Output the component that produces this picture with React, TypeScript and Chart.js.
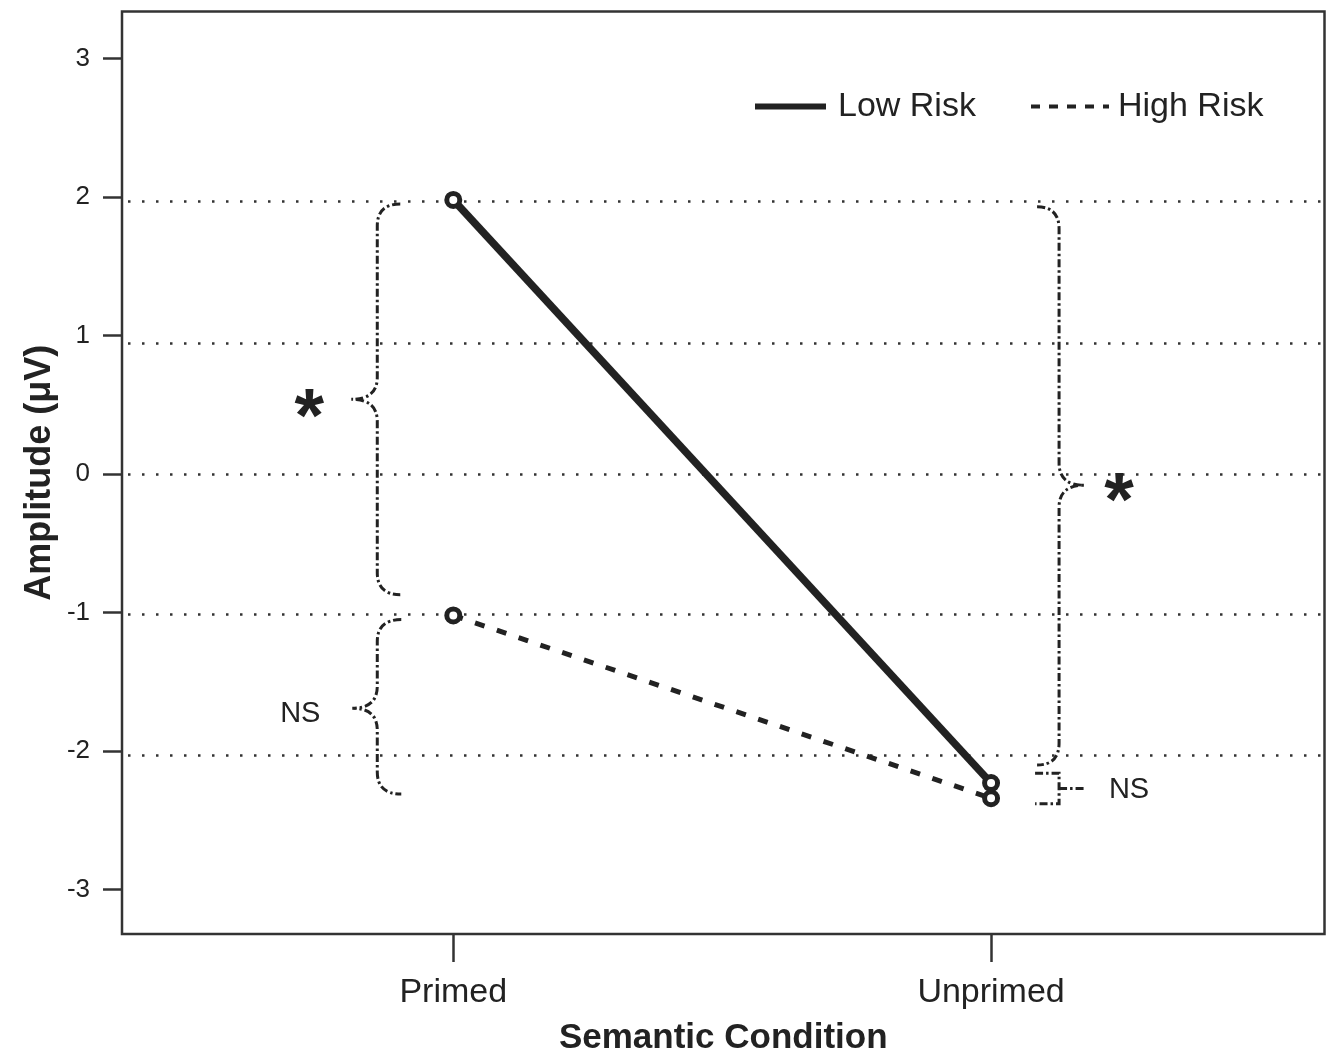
import React, { useEffect, useRef } from "react";
import { Chart, registerables } from "chart.js";

Chart.register(...registerables);

// ---- data ----
const categories = ["Primed", "Unprimed"];
const seriesLabels = ["Low Risk", "High Risk"];
const lowRisk = [1.98, -2.23];
const highRisk = [-1.02, -2.34];
const yTickValues = [-3, -2, -1, 0, 1, 2, 3];
const refLineValues = [1.97, 0.95, 0, -1.01, -2.03];
// braces: [top, tip, bottom] in µV
const braceLeftTop = [1.95, 0.54, -0.87];
const braceLeftBottom = [-1.05, -1.69, -2.31];
const braceRightBig = [1.93, -0.08, -2.1];
const bracketRightSmall = [-2.16, -2.27, -2.38];
const sigLabels = ["*", "NS", "*", "NS"];
const sigLabelValues = [0.53, -1.69, -0.08, -2.27];

const INK = "#222222";
const FONT = "'Liberation Sans', Arial, Helvetica, sans-serif";

const overlay = {
  id: "overlay",
  beforeDatasetsDraw(chart: any) {
    const { ctx, chartArea: a, scales } = chart;
    const y = scales.y;
    ctx.save();
    ctx.strokeStyle = "#333";
    ctx.lineWidth = 2.5;
    ctx.setLineDash([2.5, 11.5]);
    refLineValues.forEach((v) => {
      const py = Math.round(y.getPixelForValue(v)) + 0.5;
      ctx.beginPath();
      ctx.moveTo(a.left + 6, py);
      ctx.lineTo(a.right, py);
      ctx.stroke();
    });
    ctx.restore();
  },
  afterDraw(chart: any) {
    const { ctx, chartArea: a, scales } = chart;
    const x = scales.x;
    const y = scales.y;
    const px = (v: number) => x.getPixelForValue(v);
    const py = (v: number) => y.getPixelForValue(v);
    ctx.save();
    // frame
    ctx.strokeStyle = "#333";
    ctx.lineWidth = 2.5;
    ctx.setLineDash([]);
    ctx.strokeRect(a.left, a.top, a.right - a.left, a.bottom - a.top);

    // braces
    const brace = (vals: number[], xe: number, xv: number, xt: number) => {
      const yt = py(vals[0]);
      const yc = py(vals[1]);
      const yb = py(vals[2]);
      const r = 22;
      ctx.beginPath();
      ctx.moveTo(xe, yt);
      ctx.quadraticCurveTo(xv, yt, xv, yt + r);
      ctx.lineTo(xv, yc - r);
      ctx.quadraticCurveTo(xv, yc, xt, yc);
      ctx.quadraticCurveTo(xv, yc, xv, yc + r);
      ctx.lineTo(xv, yb - r);
      ctx.quadraticCurveTo(xv, yb, xe, yb);
      ctx.stroke();
    };
    ctx.strokeStyle = INK;
    ctx.lineWidth = 3;
    ctx.setLineDash([8, 3, 2.5, 3]);
    const p0 = px(0);
    const p1 = px(1);
    brace(braceLeftTop, p0 - 53, p0 - 76, p0 - 102);
    brace(braceLeftBottom, p0 - 52, p0 - 76, p0 - 101);
    brace(braceRightBig, p1 + 46, p1 + 68, p1 + 93);
    // small square bracket
    {
      const yt = py(bracketRightSmall[0]);
      const yc = py(bracketRightSmall[1]);
      const yb = py(bracketRightSmall[2]);
      ctx.beginPath();
      ctx.moveTo(p1 + 44, yt);
      ctx.lineTo(p1 + 68, yt);
      ctx.lineTo(p1 + 68, yb);
      ctx.lineTo(p1 + 44, yb);
      ctx.moveTo(p1 + 68, yc);
      ctx.lineTo(p1 + 93, yc);
      ctx.stroke();
    }
    ctx.setLineDash([]);

    // significance labels
    ctx.fillStyle = INK;
    ctx.textBaseline = "middle";
    ctx.textAlign = "center";
    ctx.font = `bold 76px ${FONT}`;
    ctx.fillText(sigLabels[0], p0 - 144, py(sigLabelValues[0]) + 19);
    ctx.fillText(sigLabels[2], p1 + 128, py(sigLabelValues[2]) + 19);
    ctx.font = `29px ${FONT}`;
    ctx.fillText(sigLabels[1], p0 - 153, py(sigLabelValues[1]) + 6);
    ctx.fillText(sigLabels[3], p1 + 138, py(sigLabelValues[3]) + 1);

    // legend
    const ly = a.top + 95;
    ctx.strokeStyle = INK;
    ctx.lineWidth = 6;
    ctx.beginPath();
    ctx.moveTo(755, ly);
    ctx.lineTo(826, ly);
    ctx.stroke();
    ctx.lineWidth = 4;
    ctx.setLineDash([9, 9]);
    ctx.beginPath();
    ctx.moveTo(1031, ly);
    ctx.lineTo(1109, ly);
    ctx.stroke();
    ctx.setLineDash([]);
    ctx.font = `34px ${FONT}`;
    ctx.textAlign = "left";
    ctx.fillText(seriesLabels[0], 838, ly);
    ctx.fillText(seriesLabels[1], 1118, ly);

    // axis titles
    ctx.font = `bold 35px ${FONT}`;
    ctx.textAlign = "center";
    ctx.fillText("Semantic Condition", (a.left + a.right) / 2, 1038);
    ctx.translate(40, (a.top + a.bottom) / 2);
    ctx.rotate(-Math.PI / 2);
    ctx.font = `bold 36px ${FONT}`;
    ctx.fillText("Amplitude (μV)", 0, 0);
    ctx.restore();
  },
};

const zeroPad = (s: any) => {
  s.paddingTop = 0;
  s.paddingBottom = 0;
  s.paddingLeft = 0;
  s.paddingRight = 0;
};

export default function App() {
  const ref = useRef<HTMLCanvasElement>(null);
  useEffect(() => {
    if (!ref.current) return;
    const chart = new Chart(ref.current, {
      type: "line",
      data: {
        datasets: [
          {
            label: seriesLabels[0],
            data: lowRisk.map((v, i) => ({ x: i, y: v })),
            borderColor: INK,
            borderWidth: 7.5,
            pointRadius: 6.5,
            pointBorderWidth: 5,
            pointBackgroundColor: "#fff",
            pointBorderColor: INK,
          },
          {
            label: seriesLabels[1],
            data: highRisk.map((v, i) => ({ x: i, y: v })),
            borderColor: INK,
            borderWidth: 5,
            borderDash: [10, 13],
            pointRadius: 6.5,
            pointBorderWidth: 5,
            pointBackgroundColor: "#fff",
            pointBorderColor: INK,
          },
        ],
      },
      options: {
        animation: false,
        responsive: false,
        layout: { padding: { top: 9, right: 8, left: 0, bottom: 0 } },
        plugins: { legend: { display: false }, tooltip: { enabled: false } },
        scales: {
          x: {
            type: "linear",
            min: -0.616,
            max: 1.62,
            afterFit: (s: any) => {
              s.height = 123;
              zeroPad(s);
            },
            afterBuildTicks: (s: any) => {
              s.ticks = categories.map((_, i) => ({ value: i }));
            },
            border: { display: false },
            grid: {
              drawOnChartArea: false,
              tickLength: 28,
              tickWidth: 2.5,
              tickColor: "#333",
            },
            ticks: {
              callback: (v: any) => categories[v] ?? "",
              font: { size: 34, family: FONT },
              color: INK,
              padding: 10,
              maxRotation: 0,
            },
          },
          y: {
            type: "linear",
            min: -3.32,
            max: 3.34,
            afterFit: (s: any) => {
              s.width = 122;
              zeroPad(s);
            },
            afterBuildTicks: (s: any) => {
              s.ticks = yTickValues.map((v) => ({ value: v }));
            },
            border: { display: false },
            grid: {
              drawOnChartArea: false,
              tickLength: 19,
              tickWidth: 2.5,
              tickColor: "#333",
            },
            ticks: {
              font: { size: 26, family: FONT },
              color: INK,
              padding: 13,
            },
          },
        },
      },
      plugins: [overlay],
    });
    return () => chart.destroy();
  }, []);
  return (
    <div style={{ position: "absolute", left: 0, top: 0, width: 1336, height: 1057, background: "#fff" }}>
      <canvas ref={ref} width={1336} height={1057} />
    </div>
  );
}
